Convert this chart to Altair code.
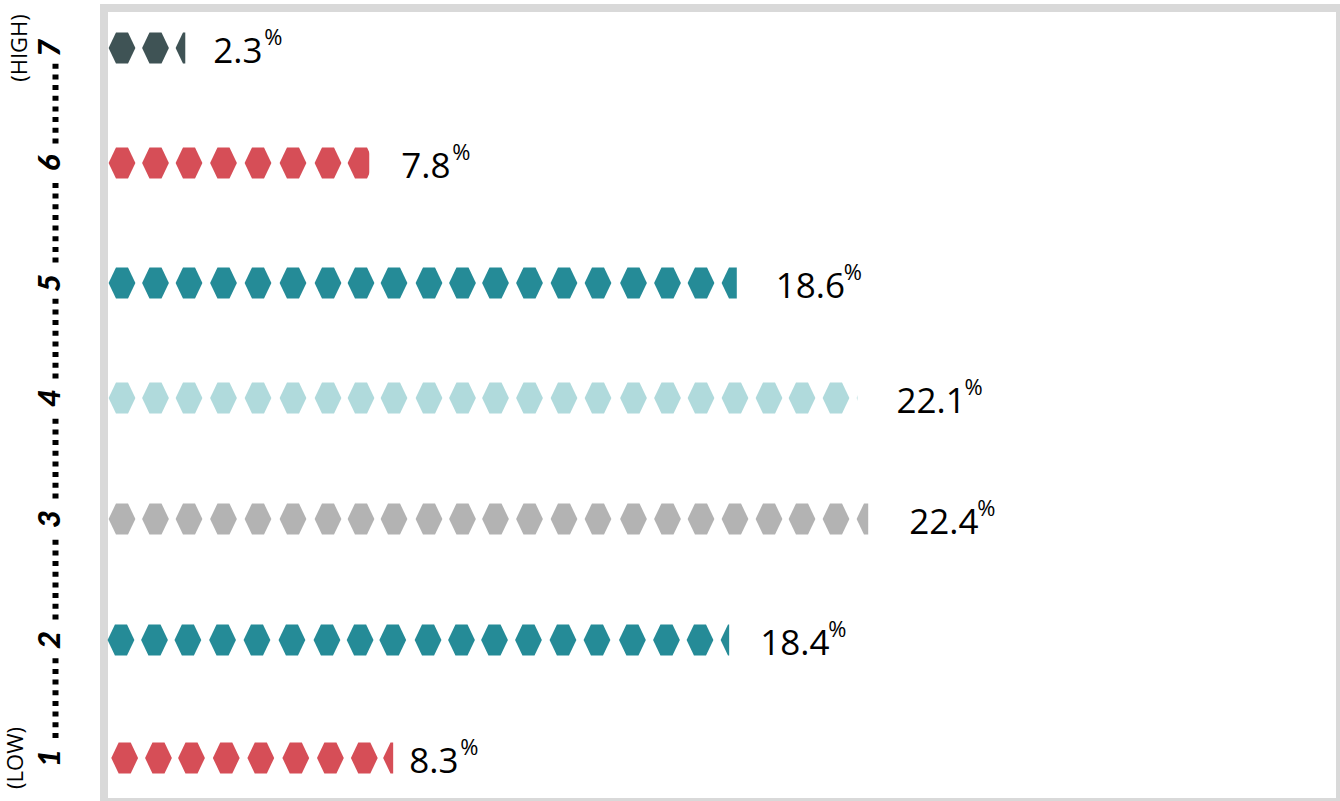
import math

import altair as alt
import pandas as pd

# Share of respondents at each rating level, one hexagon per percentage point
levels = [1, 2, 3, 4, 5, 6, 7]
shares = [8.3, 18.4, 22.4, 22.1, 18.6, 7.8, 2.3]
colours = ["#d64e57", "#258b97", "#b3b3b3", "#b0dadc", "#258b97", "#d64e57", "#3f5355"]
end_notes = {1: "(LOW)", 7: "(HIGH)"}

# Layout: piecewise position scales keep the hand-placed rhythm of the rows and hexagons
ROW_PX = [758, 640, 519, 398, 283, 163, 48]
SLOT_PX = [122, 155.5, 189, 223.5, 258, 293, 328, 361, 394, 429, 462.5, 495.5,
           529.5, 564, 598, 633.5, 667.5, 701, 735, 769, 802, 836, 870]
# Hexagons are not quite centred in their percentage slots near the row ends
SLOT_NUDGE = {2: -0.1, 7: 0.1, 8: -0.1, 18: 0.05, 22: -0.05}
SLOT_POS = [i + 0.5 + SLOT_NUDGE.get(i, 0) for i in range(len(SLOT_PX))]
ROW_SHIFT = {1: 0.08, 2: -0.03}
LABEL_GAP = {1: 16, 2: 31, 3: 41, 4: 39, 5: 39, 6: 32, 7: 28}
HEX = "M-1,0L-0.45,-1.157L0.45,-1.157L1,0L0.45,1.157L-0.45,1.157Z"
TEXT_FONT = "Open Sans"

x_scale = alt.Scale(domain=[0] + SLOT_POS + [40], range=[105] + SLOT_PX + [1460], padding=0)
y_scale = alt.Scale(domain=levels, range=ROW_PX, padding=0)
x_enc = alt.X("pos:Q", scale=x_scale, axis=None)
y_enc = alt.Y("level:Q", scale=y_scale, axis=None)

hexes = pd.DataFrame(
    [
        {"level": lv, "pos": SLOT_POS[slot] + ROW_SHIFT.get(lv, 0), "colour": c}
        for lv, v, c in zip(levels, shares, colours)
        for slot in range(math.ceil(v))
    ]
)
rows = pd.DataFrame(
    {
        "level": levels,
        "share": shares,
        "pos": [v + ROW_SHIFT.get(lv, 0) for lv, v in zip(levels, shares)],
        "end": [math.ceil(v) + 0.3 for v in shares],
        "label": [f"{v:.1f}" for v in shares],
    }
)

frame = alt.Chart(pd.DataFrame({"k": [0]})).mark_rect(
    fill="white", stroke="#d9d9d9", strokeWidth=8
).encode(x=alt.value(104), x2=alt.value(1340), y=alt.value(8), y2=alt.value(802))

hex_layer = alt.Chart(hexes).mark_point(
    shape=HEX, filled=True, size=718, opacity=1, strokeWidth=0
).encode(
    x=x_enc,
    y=y_enc,
    color=alt.Color("colour:N", scale=None, legend=None),
)

# White caps cut the last hexagon of each row at the exact share
caps = alt.Chart(rows).mark_bar(color="white", size=40).encode(
    x=x_enc, x2="end:Q", y=y_enc
)

layers = [frame, hex_layer, caps]

for lv in levels:
    row = rows[rows.level == lv]
    chars = len(row.label.iloc[0])
    gap = LABEL_GAP[lv]
    base = alt.Chart(row)
    layers.append(
        base.mark_text(
            align="left", baseline="alphabetic", dx=gap, dy=15,
            font=TEXT_FONT, fontSize=35, color="black",
        ).encode(x=x_enc, y=y_enc, text="label:N")
    )
    layers.append(
        base.mark_text(
            align="left", baseline="alphabetic", dx=gap + (68 if chars == 4 else 51), dy=-3,
            font=TEXT_FONT, fontSize=22, color="black",
        ).encode(x=x_enc, y=y_enc, text=alt.value("%"))
    )
    digit = pd.DataFrame({"level": [lv], "digit": [str(lv)]})
    layers.append(
        alt.Chart(digit).mark_text(
            angle=270, align="center", baseline="middle",
            font="Lato", fontSize=31, fontWeight=900, fontStyle="italic", color="black",
        ).encode(x=alt.value(50.5), y=y_enc, text="digit:N")
    )

# Dotted ruler joining the level numbers
ruler = pd.DataFrame(
    {"level": [lv + 0.17 for lv in levels[:-1]], "top": [lv + 0.87 for lv in levels[:-1]]}
)
layers.append(
    alt.Chart(ruler).mark_rule(strokeWidth=6, strokeDash=[5, 5.67], color="black").encode(
        x=alt.value(55.5), y=y_enc, y2="top:Q"
    )
)

notes = pd.DataFrame({"level": list(end_notes), "note": list(end_notes.values())})
for lv, lift in [(1, -7), (7, -3)]:
    layers.append(
        alt.Chart(notes[notes.level == lv]).mark_text(
            angle=270, align="center", baseline="middle", dy=lift,
            font=TEXT_FONT, fontSize=22, color="black",
        ).encode(x=alt.value(23), y=y_enc, text="note:N")
    )

chart = (
    alt.layer(*layers)
    .properties(width=1340, height=801, padding=0, autosize=alt.AutoSizeParams(type="none"))
    .configure_view(stroke=None)
)

chart.save("out.html", embed_options={"renderer": "svg", "actions": False})
